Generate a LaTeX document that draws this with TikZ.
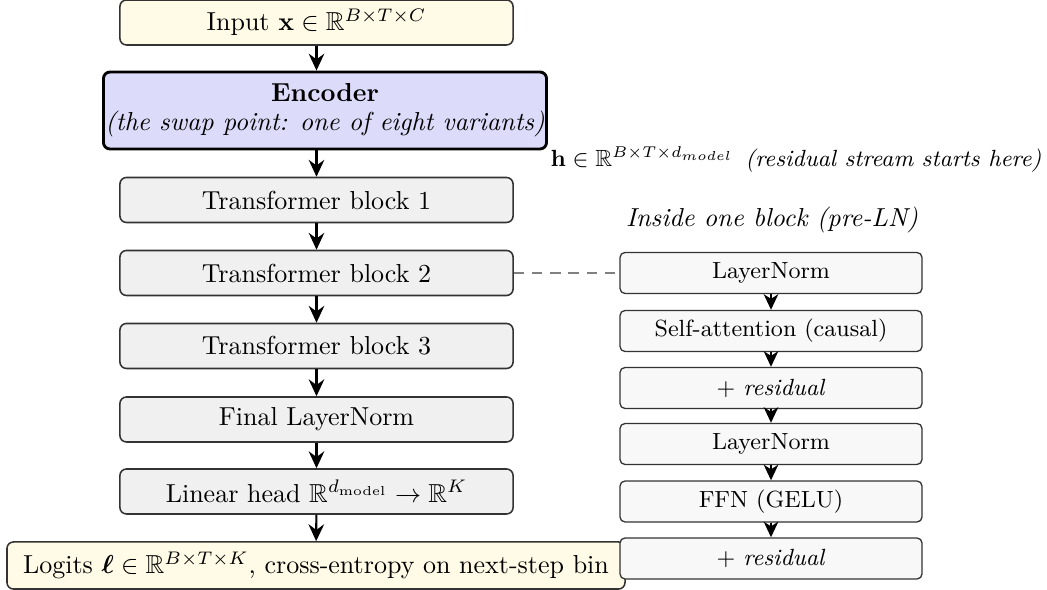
\documentclass[tikz,border=0pt]{standalone}
\usepackage{amsmath,amssymb}
\usetikzlibrary{arrows.meta}
\definecolor{creamfill}{HTML}{FFFBE6}
\definecolor{encfill}{HTML}{DCDCFA}
\definecolor{blockfill}{HTML}{F0F0F0}
\definecolor{subfill}{HTML}{F8F8F8}
\tikzset{
  blockbox/.style={draw=black!80, line width=0.6pt, rounded corners=2.5pt, fill=blockfill,
    minimum width=151.2pt, minimum height=17.3pt, inner sep=0pt, align=center},
  iobox/.style={blockbox, fill=creamfill},
  encbox/.style={draw=black, line width=1.1pt, rounded corners=2.5pt, fill=encfill,
    minimum width=170.4pt, minimum height=29.6pt, inner sep=0pt, align=center},
  subbox/.style={draw=black!80, line width=0.5pt, rounded corners=2pt, fill=subfill,
    minimum width=116.2pt, minimum height=15.8pt, inner sep=0pt, font=\small},
  flow/.style={line width=0.8pt, -{Stealth[length=6.5pt,width=6pt,inset=2.2pt]}},
  subflow/.style={line width=0.8pt, -{Stealth[length=6pt,width=5.6pt,inset=1.8pt]}},
  link/.style={gray, line width=0.5pt, dash pattern=on 4pt off 3pt}
}
\begin{document}
\begin{tikzpicture}[x=0.3846pt, y=-0.3846pt]
\useasboundingbox (0,0) rectangle (1047,590);
% main column
\node[iobox] (inp) at (316.5,22.5) {Input $\mathbf{x}\in\mathbb{R}^{B\times T\times C}$};
\node[encbox] (enc) at (325,110.5) {\textbf{Encoder}\\[-1pt] \textit{(the swap point: one of eight variants)}};
\node[blockbox] (b1) at (316.5,200) {Transformer block 1};
\node[blockbox] (b2) at (316.5,273) {Transformer block 2};
\node[blockbox] (b3) at (316.5,346) {Transformer block 3};
\node[blockbox] (fln) at (316.5,419.5) {Final LayerNorm};
\node[blockbox] (lin) at (316.5,491.5) {Linear head $\mathbb{R}^{d_{\mathrm{model}}}\to\mathbb{R}^{K}$};
\node[iobox, minimum width=237.7pt, minimum height=18.1pt] (logit) at (316,565.5) {Logits $\boldsymbol{\ell}\in\mathbb{R}^{B\times T\times K}$, cross-entropy on next-step bin};
\draw[flow] (inp.south) -- (inp.south |- enc.north);
\draw[flow] (inp.south |- enc.south) -- (b1.north);
\draw[flow] (b1) -- (b2);
\draw[flow] (b2) -- (b3);
\draw[flow] (b3) -- (fln);
\draw[flow] (fln) -- (lin);
\draw[flow] (lin) -- (logit);
% labels
\node[anchor=base west, inner sep=0pt, font=\small] (hlab) at (550,167) {$\mathbf{h}\in\mathbb{R}^{B\times T\times d_{model}}$\enspace\textit{(residual stream starts here)}};
\node[inner sep=0pt] (inlab) at (772,220) {\textit{Inside one block (pre-LN)}};
% inside block
\node[subbox] (s1) at (771,273) {LayerNorm};
\node[subbox] (s2) at (771,331) {Self-attention (causal)};
\node[subbox] (s3) at (771,388) {$+$ \textit{residual}};
\node[subbox] (s4) at (771,444) {LayerNorm};
\node[subbox] (s5) at (771,501.5) {FFN (GELU)};
\node[subbox] (s6) at (771,558.5) {$+$ \textit{residual}};
\draw[subflow] (s1) -- (s2);
\draw[subflow] (s2) -- (s3);
\draw[subflow] (s3) -- (s4);
\draw[subflow] (s4) -- (s5);
\draw[subflow] (s5) -- (s6);
\draw[link] (b2.east) -- (s1.west);
\end{tikzpicture}
\end{document}
